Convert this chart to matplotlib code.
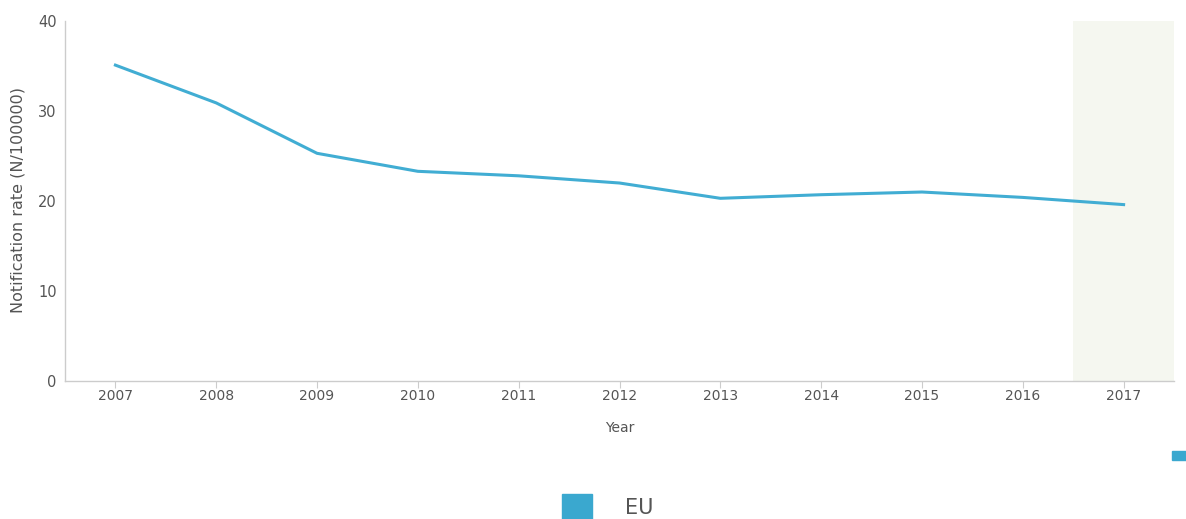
import matplotlib.pyplot as plt
from matplotlib.patches import Rectangle

# Data
years = [2007, 2008, 2009, 2010, 2011, 2012, 2013, 2014, 2015, 2016, 2017]
eu_rate = [35.1, 30.9, 25.3, 23.3, 22.8, 22.0, 20.3, 20.7, 21.0, 20.4, 19.6]
y_ticks = [0, 10, 20, 30, 40]

line_color = '#41add3'
text_color = '#555555'

fig = plt.figure(figsize=(11.86, 5.19), dpi=100)
ax = fig.add_axes([0.0548, 0.2659, 0.9351, 0.6936])

# shaded band for the last year
ax.axvspan(years[-1] - 0.5, years[-1] + 0.5, color='#f5f7f0', zorder=0, lw=0)

ax.plot(years, eu_rate, color=line_color, lw=2.2, solid_joinstyle='round', zorder=3)

ax.set_xlim(years[0] - 0.5, years[-1] + 0.5)
ax.set_ylim(0, 40)
ax.set_xticks(years)
ax.set_yticks(y_ticks)

for side in ['top', 'right']:
    ax.spines[side].set_visible(False)
for side in ['left', 'bottom']:
    ax.spines[side].set_color('#cccccc')
    ax.spines[side].set_linewidth(1.0)

ax.tick_params(axis='x', colors='#cccccc', labelcolor=text_color, labelsize=10, length=5, pad=1)
ax.tick_params(axis='y', length=0, labelcolor=text_color, labelsize=10.5, pad=6)

ax.set_xlabel('Year', color=text_color, fontsize=10, labelpad=13)
fig.text(18 / 1186, 1 - 200 / 519, 'Notification rate (N/100000)', color=text_color,
         fontsize=11.5, rotation=90, ha='center', va='center')

# legend drawn by hand, like the reference
fig.patches.append(Rectangle((562 / 1186, 0), 30 / 1186, 25 / 519,
                             transform=fig.transFigure, color='#3aa8cf'))
fig.text(625 / 1186, 11 / 519, 'EU', color=text_color, fontsize=15, va='center')
fig.patches.append(Rectangle((1172 / 1186, 59 / 519), 14 / 1186, 9 / 519,
                             transform=fig.transFigure, color='#3aa8cf'))

fig.savefig('out.png', dpi=100)
